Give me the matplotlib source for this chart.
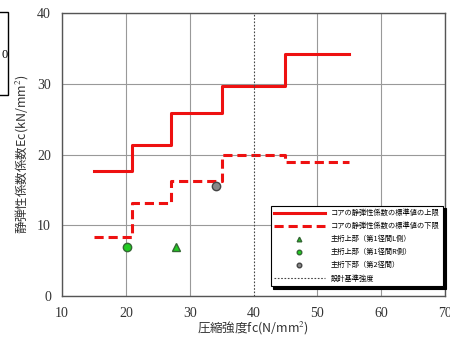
import matplotlib
matplotlib.use('Agg')
from matplotlib import pyplot as plt
from matplotlib.patches import Rectangle

plt.rcParams['font.family'] = ['Liberation Serif', 'Noto Sans CJK JP', 'DejaVu Sans']
plt.rcParams['mathtext.fontset'] = 'stix'

# upper / lower bound of standard Ec (step lines)
upper_x = [15, 21, 21, 27, 27, 35, 35, 45, 45, 55]
upper_y = [17.7, 17.7, 21.3, 21.3, 25.8, 25.8, 29.7, 29.7, 34.2, 34.2]
lower_x = [15, 21, 21, 27, 27, 35, 35, 45, 45, 55]
lower_y = [8.4, 8.4, 13.2, 13.2, 16.2, 16.2, 19.9, 19.9, 19.0, 19.0]

# measured points
girder_top_L = ([27.9], [6.9])
girder_top_R = ([20.2], [6.9])
girder_bottom = ([34.2], [15.6])

design_fc = 40

labels = ['コアの静弾性係数の標準値の上限', 'コアの静弾性係数の標準値の下限',
          '主桁上部（第1径間L側）', '主桁上部（第1径間R側）',
          '主桁下部（第2径間）', '設計基準強度']

cjk = ['Noto Sans CJK JP', 'DejaVu Sans']

fig = plt.figure(figsize=(4.5, 3.49), dpi=100)
ax = fig.add_axes([62 / 450, (349 - 296) / 349, (445 - 62) / 450, (296 - 13) / 349])

ax.plot(upper_x, upper_y, color='#ee1111', lw=2.2, label=labels[0])
ax.plot(lower_x, lower_y, color='#ee1111', lw=2.2, ls=(0, (3, 1.6)), label=labels[1])
ax.plot(*girder_top_L, ls='none', marker='^', ms=6, mfc='#22cc22', mec='#336633', label=labels[2])
ax.plot(*girder_top_R, ls='none', marker='o', ms=6, mfc='#22cc22', mec='#336633', label=labels[3])
ax.plot(*girder_bottom, ls='none', marker='o', ms=6, mfc='#888888', mec='#444444', label=labels[4])
ax.axvline(design_fc, color='#444444', lw=0.8, ls=(0, (1.5, 1.5)), label=labels[5])

ax.set_xlim(10, 70)
ax.set_ylim(0, 40)
ax.set_xticks(range(10, 71, 10))
ax.set_yticks(range(0, 41, 10))
ax.grid(color='#999999', lw=0.8)
ax.xaxis.get_gridlines()[3].set_visible(False)
ax.tick_params(length=0, labelsize=10, colors='#333333', pad=8)
for lab in ax.get_xticklabels() + ax.get_yticklabels():
    lab.set_family('Liberation Serif')
for s in ax.spines.values():
    s.set_color('#555555')
    s.set_linewidth(1.0)

ax.set_xlabel('圧縮強度fc(N/mm$^2$)', family=cjk, fontsize=9, color='#333333', labelpad=0)
ax.set_ylabel('静弾性係数係数Ec(kN/mm$^2$)', family=cjk, fontsize=9, color='#333333', labelpad=4)

leg = ax.legend(loc='upper left', bbox_to_anchor=(0.535, 0.332), prop={'family': cjk, 'size': 5.2},
                frameon=True, fancybox=False, shadow={'color': 'black', 'alpha': 1}, edgecolor='black',
                framealpha=1, handlelength=7, markerscale=0.55, labelspacing=0.7, borderpad=0.5)
leg.get_frame().set_linewidth(0.8)

# cut-off box at left edge
fig.patches.append(Rectangle((-0.01, (349 - 95) / 349), 12 / 450, 83 / 349, transform=fig.transFigure,
                             fill=False, edgecolor='black', lw=1))
fig.text(1 / 450, 1 - 55 / 349, '0', fontsize=9, va='center', ha='left')

plt.savefig('out.png')
